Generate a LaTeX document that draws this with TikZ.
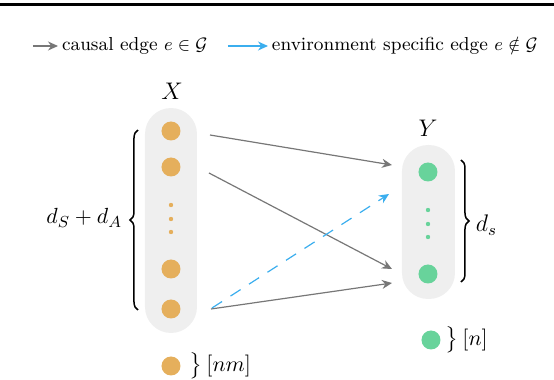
\documentclass[tikz,border=0pt]{standalone}
\usepackage{amsmath,amssymb}
\usetikzlibrary{arrows.meta,calc,decorations.pathreplacing}
\definecolor{orangec}{HTML}{E5AF5C}
\definecolor{greenc}{HTML}{68D39B}
\definecolor{capsc}{HTML}{EFEFEF}
\definecolor{grayc}{HTML}{777777}
\definecolor{bluec}{HTML}{3BAEEE}
\tikzset{
  capsule/.style={fill=capsc, draw=none, rounded corners=13pt, minimum width=26pt, inner sep=0pt, outer sep=0pt},
  xdot/.style={circle, fill=orangec, minimum size=9.5pt, inner sep=0pt, outer sep=0pt},
  ydot/.style={circle, fill=greenc, minimum size=9.5pt, inner sep=0pt, outer sep=0pt},
  xsmall/.style={circle, fill=orangec, minimum size=2.2pt, inner sep=0pt},
  ysmall/.style={circle, fill=greenc, minimum size=2.2pt, inner sep=0pt},
  causal/.style={draw=grayc, line width=0.6pt, -{Stealth[length=5pt,width=4.5pt]}},
  envedge/.style={draw=bluec, line width=0.6pt, dash pattern=on 6pt off 5pt, -{Stealth[length=5pt,width=4.5pt]}},
  brc/.style={decorate, decoration={brace, amplitude=4pt}, line width=0.75pt},
  lbl/.style={inner sep=0pt, outer sep=0pt},
  legtext/.style={lbl, anchor=west, font=\fontsize{9.4}{11}\selectfont},
}
\begin{document}
\begin{tikzpicture}[x=0.5pt,y=-0.5pt]
\useasboundingbox (0,0) rectangle (554,380);
% top rule
\draw[line width=1.5pt] (0,5) -- (554,5);
% legend
\coordinate (lg1s) at (33,46);
\coordinate (lg1e) at (58,46);
\coordinate (lg2s) at (228,46);
\coordinate (lg2e) at (268,46);
\draw[causal] (lg1s) -- (lg1e);
\node[legtext] (lt1) at (62,46) {causal edge $e\in\mathcal{G}$};
\draw[draw=bluec, line width=0.6pt, -{Stealth[length=5pt,width=4.5pt]}] (lg2s) -- (lg2e);
\node[legtext] (lt2) at (272,46) {environment specific edge $e\notin\mathcal{G}$};
% capsules
\node[capsule, minimum height=112.5pt] (capX) at (171,220.5) {};
\node[capsule, minimum height=77pt, minimum width=26.5pt] (capY) at (428.5,222) {};
% X nodes
\node[xdot] (x1) at (171,131) {};
\node[xdot] (x2) at (171,167) {};
\node[xsmall] (xd1) at (171,205) {};
\node[xsmall] (xd2) at (171,219) {};
\node[xsmall] (xd3) at (171,232) {};
\node[xdot] (x3) at (171,269) {};
\node[xdot] (x4) at (171,309) {};
% Y nodes
\node[ydot] (y1) at (428,172) {};
\node[ysmall] (yd1) at (428,210) {};
\node[ysmall] (yd2) at (428,224) {};
\node[ysmall] (yd3) at (428,237) {};
\node[ydot] (y2) at (428,274) {};
% labels
\node[lbl] (lX) at (172,91) {\fontsize{13}{15}\selectfont $X$};
\node[lbl] (lY) at (428,128) {\fontsize{13}{15}\selectfont $Y$};
% braces
\coordinate (bl1) at (138,310);
\coordinate (bl2) at (138,130);
\draw[brc] (bl1) -- (bl2);
\node[lbl, anchor=east] (ldim) at (122,218) {\fontsize{11}{13}\selectfont $d_S+d_A$};
\coordinate (br1) at (461,160);
\coordinate (br2) at (461,282);
\draw[brc] (br1) -- (br2);
\node[lbl, anchor=west] (rdim) at (476,225) {\fontsize{12}{14}\selectfont $d_s$};
% edges
\draw[causal] ($(x1)+(39,4)$) -- ($(y1)+(-36,-7)$);
\draw[causal] ($(x2)+(38,6)$) -- ($(y2)+(-36,-5)$);
\draw[causal] ($(x4)+(40,0)$) -- ($(y2)+(-36,9)$);
\draw[envedge] ($(x4)+(41,-1)$) -- ($(y1)+(-39,22)$);
% bottom legend
\node[xdot] (x5) at (171,366) {};
\node[lbl, anchor=west] (nm) at (190,366) {\fontsize{11}{13}\selectfont $\big\}\,[nm]$};
\node[ydot] (y5) at (431,340) {};
\node[lbl, anchor=west] (nn) at (446,340) {\fontsize{11}{13}\selectfont $\big\}\,[n]$};
\end{tikzpicture}
\end{document}
